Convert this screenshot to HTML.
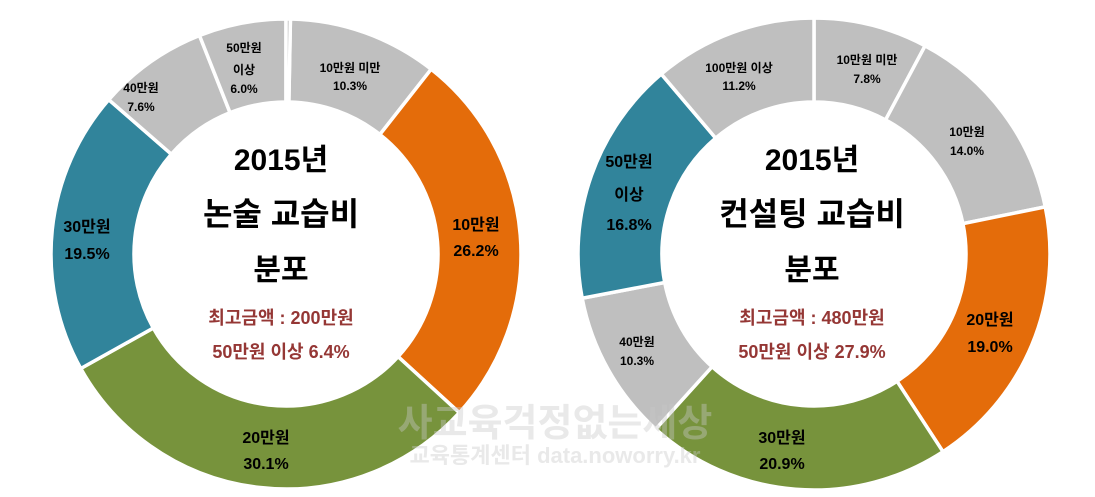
<!DOCTYPE html>
<html><head><meta charset="utf-8"><style>
html,body{margin:0;padding:0;background:#fff;}
svg{display:block;}
text{font-family:"Liberation Sans","Noto Sans CJK KR",sans-serif;font-weight:bold;text-anchor:middle;}
</style></head><body>
<svg id="s" width="1095" height="497" viewBox="0 0 1095 497" xmlns="http://www.w3.org/2000/svg">
<g id="g1"></g><g id="g2"></g>
<g fill="#000">
<text x="350" y="72" font-size="12">10만원 미만</text>
<text x="350" y="90" font-size="12">10.3%</text>
<text x="244" y="52" font-size="12">50만원</text>
<text x="244" y="74" font-size="12">이상</text>
<text x="244" y="93" font-size="12">6.0%</text>
<text x="141" y="92" font-size="12">40만원</text>
<text x="141" y="111" font-size="12">7.6%</text>
<text x="476" y="230" font-size="16">10만원</text>
<text x="476" y="256" font-size="16">26.2%</text>
<text x="266" y="443" font-size="16">20만원</text>
<text x="266" y="469" font-size="16">30.1%</text>
<text x="87" y="232" font-size="16">30만원</text>
<text x="87" y="259" font-size="16">19.5%</text>
<text x="281" y="170" font-size="30">2015년</text>
<text x="281" y="225" font-size="32">논술 교습비</text>
<text x="281" y="280" font-size="30">분포</text>
<text x="281" y="324" font-size="18" fill="#953735">최고금액 : 200만원</text>
<text x="281" y="358" font-size="18" fill="#953735">50만원 이상 6.4%</text>
</g>
<g fill="#000">
<text x="867" y="64" font-size="12">10만원 미만</text>
<text x="867" y="83" font-size="12">7.8%</text>
<text x="739" y="72" font-size="12">100만원 이상</text>
<text x="739" y="90" font-size="12">11.2%</text>
<text x="967" y="136" font-size="12">10만원</text>
<text x="967" y="155" font-size="12">14.0%</text>
<text x="629" y="167" font-size="16">50만원</text>
<text x="629" y="200" font-size="16">이상</text>
<text x="629" y="230" font-size="16">16.8%</text>
<text x="637" y="346" font-size="12">40만원</text>
<text x="637" y="365" font-size="12">10.3%</text>
<text x="990" y="325" font-size="16">20만원</text>
<text x="990" y="352" font-size="16">19.0%</text>
<text x="782" y="443" font-size="16">30만원</text>
<text x="782" y="469" font-size="16">20.9%</text>
<text x="812" y="170" font-size="30">2015년</text>
<text x="812" y="225" font-size="32">컨설팅 교습비</text>
<text x="812" y="280" font-size="30">분포</text>
<text x="812" y="324" font-size="18" fill="#953735">최고금액 : 480만원</text>
<text x="812" y="358" font-size="18" fill="#953735">50만원 이상 27.9%</text>
</g>
<g fill="rgba(200,200,200,0.4)">
<text x="555" y="436" font-size="38">사교육걱정없는세상</text>
<text x="555" y="463" font-size="22">교육통계센터 data.noworry.kr</text>
</g>
</svg>
<script>
var G='#BFBFBF',O='#E46C0A',GR='#77933C',T='#31849B';
function donut(id,cx,cy,R,r,start,data){
  var g=document.getElementById(id),a=start*3.6,h='';
  data.forEach(function(d){
    var a0=a,a1=a+d[0]*3.6;a=a1;
    function p(rad,ang){var t=(ang-90)*Math.PI/180;return (cx+rad*Math.cos(t)).toFixed(2)+' '+(cy+rad*Math.sin(t)).toFixed(2);}
    var lg=(a1-a0)>180?1:0;
    h+='<path d="M'+p(R,a0)+' A'+R+' '+R+' 0 '+lg+' 1 '+p(R,a1)+' L'+p(r,a1)+' A'+r+' '+r+' 0 '+lg+' 0 '+p(r,a0)+' Z" fill="'+d[1]+'" stroke="#fff" stroke-width="3.5" stroke-linejoin="miter"/>';
  });
  g.innerHTML=h;
}
donut('g1',286,254,235,152,0.3,[[10.3,G],[26.2,O],[30.1,GR],[19.5,T],[7.6,G],[6.0,G],[0.3,G]]);
donut('g2',814,254,236,152,0,[[7.8,G],[14.0,G],[19.0,O],[20.9,GR],[10.3,G],[16.8,T],[11.2,G]]);
</script>
</body></html>
